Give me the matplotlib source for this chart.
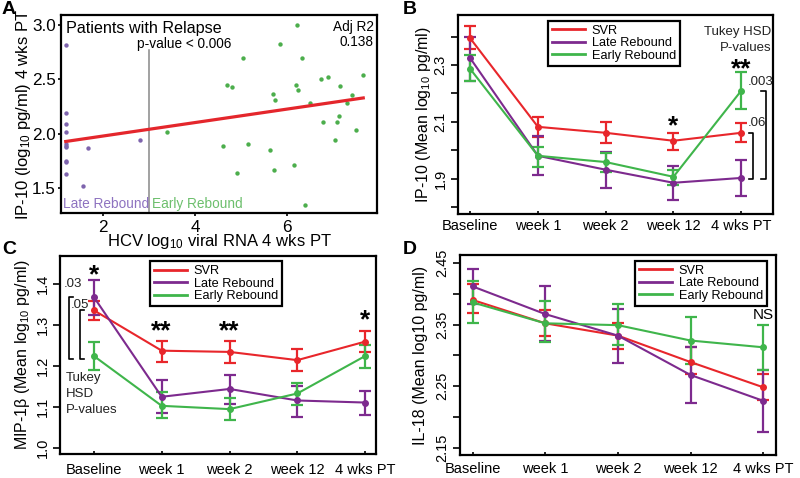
import numpy as np
import matplotlib.pyplot as plt
from matplotlib.lines import Line2D

plt.rcParams['font.family'] = ['Liberation Sans', 'DejaVu Sans']
plt.rcParams['mathtext.fontset'] = 'custom'
plt.rcParams['mathtext.rm'] = 'Liberation Sans'
plt.rcParams['mathtext.it'] = 'Liberation Sans:italic'
plt.rcParams['mathtext.default'] = 'regular'

W, H = 800, 478
RED = "#e8262b"
PURPLE = "#7d2a8e"
GREEN = "#3fb54b"
DOT_PURPLE = "#7e64ad"
DOT_GREEN = "#4cae4c"

# ---- panel A: relapse patients, IP-10 vs viral RNA at 4 wks PT
late_x = [1.18, 1.18, 1.18, 1.18, 1.18, 1.18, 1.18, 1.18, 1.18, 1.18, 1.67, 1.56, 2.80]
late_y = [2.82, 2.19, 2.09, 2.02, 1.91, 1.89, 1.88, 1.75, 1.74, 1.63, 1.87, 1.52, 1.94]
early_x = [3.38, 4.60, 4.69, 4.81, 4.92, 5.05, 5.16, 5.64, 5.71, 5.73, 5.75, 5.85,
           6.15, 6.20, 6.23, 6.25, 6.33, 6.40, 6.51, 6.75, 6.80, 6.91, 7.05, 7.09,
           7.15, 7.16, 7.31, 7.42, 7.51, 7.67]
early_y = [2.02, 1.89, 2.45, 2.43, 1.64, 2.70, 1.91, 1.85, 2.37, 1.67, 2.31, 2.83,
           1.71, 2.45, 3.00, 2.40, 2.70, 1.35, 2.28, 2.50, 2.11, 2.52, 1.94, 2.11,
           2.16, 2.44, 2.28, 2.36, 2.04, 2.54]
fit_x = [1.18, 7.67]
fit_y = [1.93, 2.33]
cutoff_x = 3.0

# ---- time-course panels
timepoints = ["Baseline", "week 1", "week 2", "week 12", "4 wks PT"]
groups = ["SVR", "Late Rebound", "Early Rebound"]
group_colors = [RED, PURPLE, GREEN]

# rows: SVR, Late Rebound, Early Rebound
ip10_mean = [[2.394, 2.082, 2.061, 2.033, 2.061],
             [2.324, 1.980, 1.931, 1.885, 1.902],
             [2.286, 1.980, 1.958, 1.906, 2.209]]
ip10_low = [[2.356, 2.047, 2.024, 2.002, 2.027],
            [2.244, 1.914, 1.866, 1.823, 1.839],
            [2.244, 1.941, 1.924, 1.876, 2.145]]
ip10_high = [[2.439, 2.118, 2.098, 2.062, 2.094],
             [2.400, 2.049, 1.994, 1.945, 1.965],
             [2.335, 2.012, 1.990, 1.929, 2.274]]

mip_mean = [[1.335, 1.237, 1.234, 1.214, 1.259],
            [1.367, 1.125, 1.144, 1.116, 1.111],
            [1.224, 1.103, 1.095, 1.133, 1.224]]
mip_low = [[1.311, 1.210, 1.208, 1.187, 1.234],
           [1.323, 1.085, 1.107, 1.075, 1.081],
           [1.190, 1.073, 1.069, 1.105, 1.194]]
mip_high = [[1.357, 1.261, 1.261, 1.240, 1.284],
            [1.408, 1.166, 1.179, 1.150, 1.140],
            [1.259, 1.136, 1.123, 1.159, 1.252]]

il18_mean = [[2.390, 2.352, 2.332, 2.289, 2.248],
             [2.412, 2.367, 2.332, 2.268, 2.226],
             [2.386, 2.352, 2.349, 2.324, 2.313]]
il18_low = [[2.369, 2.331, 2.310, 2.270, 2.228],
            [2.383, 2.323, 2.288, 2.223, 2.176],
            [2.353, 2.321, 2.316, 2.286, 2.276]]
il18_high = [[2.416, 2.374, 2.353, 2.313, 2.269],
             [2.441, 2.412, 2.375, 2.313, 2.276],
             [2.421, 2.389, 2.383, 2.363, 2.349]]


def rect(l, t, r, b):
    return [l / W, 1 - b / H, (r - l) / W, (b - t) / H]


def style_spines(ax):
    for s in ax.spines.values():
        s.set_linewidth(1.6)


def time_panel(ax, means, lows, highs, xlim, ylim, yticks, ylabels, ylabel,
               label_x, xpad, legend_xy):
    x = np.arange(len(timepoints))
    for m, lo, hi, c in zip(means, lows, highs, group_colors):
        m = np.array(m)
        yerr = [m - np.array(lo), np.array(hi) - m]
        ax.errorbar(x, m, yerr=yerr, color=c, lw=1.5, marker="o", ms=4,
                    capsize=4.2, capthick=1.6, elinewidth=1.6)
    ax.set_xlim(*xlim)
    ax.set_ylim(*ylim)
    ax.set_xticks(x)
    ax.set_xticklabels(timepoints, fontsize=10.5)
    ax.set_yticks(yticks)
    ax.set_yticklabels(ylabels, fontsize=10.5, rotation=90, va="center")
    ax.set_ylabel(ylabel, fontsize=11.5)
    ax.yaxis.set_label_coords(label_x, 0.5)
    style_spines(ax)
    ax.tick_params(axis="y", direction="out", length=5, width=1.2, pad=2.4)
    ax.tick_params(axis="x", direction="in", length=2, width=1.2, pad=xpad)
    handles = [Line2D([], [], color=c, lw=2) for c in group_colors]
    leg = ax.legend(handles, groups, loc="upper left", bbox_to_anchor=legend_xy,
                    borderaxespad=0, fontsize=9.2, handlelength=2.6,
                    handletextpad=0.5, labelspacing=0.05, borderpad=0.3,
                    fancybox=False, framealpha=1, edgecolor="black")
    leg.get_frame().set_linewidth(1.6)


def bracket(ax, x, y0, y1, arm, side):
    ax.plot([x + side * arm, x, x, x + side * arm], [y0, y0, y1, y1],
            color="black", lw=1.2, clip_on=False)


fig = plt.figure(figsize=(W / 100, H / 100), dpi=100)

# ---------------- A
ax_a = fig.add_axes(rect(61, 15, 377, 213))
ax_a.scatter(late_x, late_y, s=10, color=DOT_PURPLE, linewidths=0, zorder=3)
ax_a.scatter(early_x, early_y, s=10, color=DOT_GREEN, linewidths=0, zorder=3)
ax_a.plot(fit_x, fit_y, color="#e4262c", lw=2.3, zorder=4)
ax_a.axvline(cutoff_x, ymin=0, ymax=0.825, color="#888888", lw=1.1)
ax_a.set_xlim(1.077, 7.97)
ax_a.set_ylim(1.273, 3.092)
ax_a.set_xticks([2, 4, 6])
ax_a.set_yticks([1.5, 2.0, 2.5, 3.0])
ax_a.set_yticklabels(["1.5", "2.0", "2.5", "3.0"])
ax_a.tick_params(labelsize=12.3, direction="out", length=2.5, width=1.2, pad=1.2)
ax_a.tick_params(axis="x", pad=2.2)
ax_a.set_xlabel(r"HCV log$_{10}$ viral RNA 4 wks PT", fontsize=12)
ax_a.xaxis.set_label_coords(0.5, -0.098)
ax_a.set_ylabel(r"IP-10 (log$_{10}$ pg/ml) 4 wks PT", fontsize=12)
ax_a.yaxis.set_label_coords(-0.088, 0.5)
style_spines(ax_a)
ax_a.text(0.017, 0.93, "Patients with Relapse", transform=ax_a.transAxes,
          fontsize=11.6, va="center", ha="left")
ax_a.text(0.24, 0.855, "p-value < 0.006", transform=ax_a.transAxes,
          fontsize=9.8, va="center", ha="left")
ax_a.text(0.99, 0.94, "Adj R2", transform=ax_a.transAxes,
          fontsize=9.8, va="center", ha="right")
ax_a.text(0.99, 0.865, "0.138", transform=ax_a.transAxes,
          fontsize=9.8, va="center", ha="right")
ax_a.text(0.006, 0.045, "Late Rebound", transform=ax_a.transAxes,
          fontsize=9.8, va="center", ha="left", color="#8e73c0")
ax_a.text(0.288, 0.045, "Early Rebound", transform=ax_a.transAxes,
          fontsize=9.8, va="center", ha="left", color="#6cbf6c")

# ---------------- B
ax_b = fig.add_axes(rect(458, 15, 773, 214))
time_panel(ax_b, ip10_mean, ip10_low, ip10_high, (-0.18, 4.47), (1.775, 2.476),
           [1.8, 1.9, 2.0, 2.1, 2.2, 2.3, 2.4], ["", "1.9", "", "2.1", "", "2.3", ""],
           r"IP-10 (Mean log$_{10}$ pg/ml)", -0.078, 3.4, (0.286, 0.971))
ax_b.text(0.995, 0.915, "Tukey HSD", transform=ax_b.transAxes, fontsize=9.5,
          ha="right", va="center", color="#222222")
ax_b.text(0.995, 0.835, "P-values", transform=ax_b.transAxes, fontsize=9.5,
          ha="right", va="center", color="#222222")
ax_b.text(3, 2.085, "*", fontsize=19, ha="center", va="center", weight="bold")
ax_b.text(4, 2.285, "**", fontsize=19, ha="center", va="center", weight="bold")
bracket(ax_b, 4.36, ip10_mean[2][4], 1.90, 0.06, -1)
bracket(ax_b, 4.18, ip10_mean[0][4], 1.90, 0.07, -1)
ax_b.text(4.1, 2.241, ".003", fontsize=9.5, ha="left", va="center", color="#222222")
ax_b.text(4.1, 2.096, ".06", fontsize=9.5, ha="left", va="center", color="#222222")

# ---------------- C
ax_c = fig.add_axes(rect(60, 256, 376, 454))
time_panel(ax_c, mip_mean, mip_low, mip_high, (-0.5, 4.16), (0.986, 1.467),
           [1.0, 1.1, 1.2, 1.3, 1.4], ["1.0", "1.1", "1.2", "1.3", "1.4"],
           r"MIP-1β (Mean log$_{10}$ pg/ml)", -0.09, 6.2, (0.286, 0.974))
ax_c.text(0, 1.42, "*", fontsize=19, ha="center", va="center", weight="bold")
ax_c.text(1, 1.285, "**", fontsize=19, ha="center", va="center", weight="bold")
ax_c.text(2, 1.285, "**", fontsize=19, ha="center", va="center", weight="bold")
ax_c.text(4, 1.31, "*", fontsize=19, ha="center", va="center", weight="bold")
bracket(ax_c, -0.372, mip_mean[1][0], 1.217, 0.07, 1)
bracket(ax_c, -0.21, mip_mean[0][0], 1.217, 0.06, 1)
ax_c.text(-0.45, 1.40, ".03", fontsize=9.5, ha="left", va="center", color="#222222")
ax_c.text(-0.345, 1.347, ".05", fontsize=9.5, ha="left", va="center", color="#222222")
for txt, ty in [("Tukey", 1.171), ("HSD", 1.131), ("P-values", 1.093)]:
    ax_c.text(-0.42, ty, txt, fontsize=9.5, ha="left", va="center", color="#222222")

# ---------------- D
ax_d = fig.add_axes(rect(460, 255, 776, 455))
time_panel(ax_d, il18_mean, il18_low, il18_high, (-0.172, 4.175), (2.138, 2.463),
           [2.15, 2.20, 2.25, 2.30, 2.35, 2.40, 2.45],
           ["2.15", "", "2.25", "", "2.35", "", "2.45"],
           "IL-18 (Mean log10 pg/ml)", -0.1, 5.0, (0.554, 0.9715))
ax_d.text(4, 2.365, "NS", fontsize=11, ha="center", va="center")

# panel letters
for lbl, px, py in [("A", 2, 9), ("B", 403, 9), ("C", 2, 249), ("D", 403, 249)]:
    fig.text(px / W, 1 - py / H, lbl, fontsize=14, weight="bold", va="center", ha="left")

fig.savefig("out.png", dpi=100)
